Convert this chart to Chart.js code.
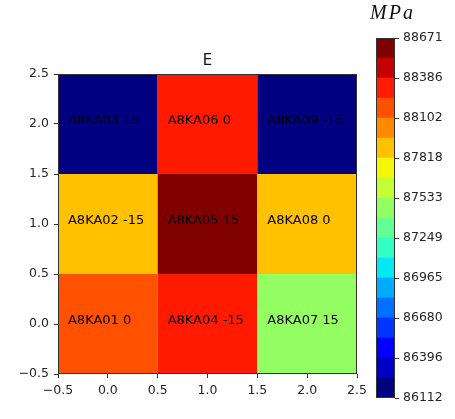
<!DOCTYPE html>
<html>
<head>
<meta charset="utf-8">
<script src="https://cdn.jsdelivr.net/npm/chart.js@4.4.1/dist/chart.umd.min.js"></script>
<style>
  html, body { margin: 0; padding: 0; background: #fff; }
  #wrap { position: relative; width: 455px; height: 419px; overflow: hidden; }
  #heat { position: absolute; left: 0; top: 0; }
  #cbar { position: absolute; left: 360px; top: 0; }
  #unit { position: absolute; left: 370px; top: 1px; line-height: 20px;
          font: italic 20px "Liberation Serif", serif; letter-spacing: 2px; color: #111; }
</style>
</head>
<body>
<div id="wrap">
  <canvas id="heat" width="370" height="419"></canvas>
  <canvas id="cbar" width="95" height="419"></canvas>
  <div id="unit">MPa</div>
</div>
<script>
// grid cells: name, angle, column, row and modulus value (MPa)
const cellNames = ['A8KA01', 'A8KA02', 'A8KA03', 'A8KA04', 'A8KA05', 'A8KA06', 'A8KA07', 'A8KA08', 'A8KA09'];
const cellAngles = [0, -15, 15, -15, 15, 0, 15, 0, -15];
const cellCols = [0, 0, 0, 1, 1, 1, 2, 2, 2];
const cellRows = [0, 1, 2, 0, 1, 2, 0, 1, 2];
const cellValues = [88180, 87890, 86112, 88310, 88671, 88330, 87460, 87900, 86180];

// axis ticks
const axisTicks = [-0.5, 0, 0.5, 1, 1.5, 2, 2.5];

// colour scale (jet, 18 levels)
const colorMin = 86112;
const colorMax = 88671;
const bandColors = [
    '#000080', '#0000c4', '#0000ff', '#0034ff', '#0070ff', '#00acff',
    '#02e8f4', '#33ffc4', '#63ff93', '#93ff63', '#c4ff33', '#f4f802',
    '#ffc100', '#ff8900', '#ff5100', '#ff1a00', '#c40000', '#800000'
];
const colorbarTicks = [86112, 86396, 86680, 86965, 87249, 87533, 87818, 88102, 88386, 88671];

const FONT = '"DejaVu Sans", sans-serif';
const TICK_COLOR = '#262626';

function colorFor(v) {
    const n = bandColors.length;
    let i = Math.floor((v - colorMin) / (colorMax - colorMin) * n);
    return bandColors[Math.max(0, Math.min(n - 1, i))];
}

// box around the plot area
const framePlugin = {
    id: 'frame',
    afterDatasetsDraw(chart) {
        const a = chart.chartArea;
        const ctx = chart.ctx;
        ctx.save();
        ctx.strokeStyle = '#333';
        ctx.lineWidth = 1;
        ctx.strokeRect(Math.round(a.left) + 0.5, Math.round(a.top) + 0.5,
            Math.round(a.right - a.left) - 1, Math.round(a.bottom - a.top) - 1);
        ctx.restore();
    }
};

// text inside each cell, left part of the cell on the row line
const cellLabels = {
    id: 'cellLabels',
    afterDatasetsDraw(chart) {
        const xs = chart.scales.x, ys = chart.scales.y;
        const ctx = chart.ctx;
        ctx.save();
        ctx.font = '13px ' + FONT;
        ctx.fillStyle = '#000';
        ctx.textAlign = 'left';
        ctx.textBaseline = 'alphabetic';
        cellNames.forEach((name, i) => {
            const x = xs.getPixelForValue(cellCols[i] - 0.4);
            const y = ys.getPixelForValue(cellRows[i]);
            ctx.fillText(name + ' ' + cellAngles[i], x, y);
        });
        ctx.restore();
    }
};

function fmtTick(v) {
    return (v < 0 ? '\u2212' : '') + Math.abs(v).toFixed(1);
}

function axisOpts(width, height) {
    return {
        type: 'linear',
        offset: false,
        min: -0.5,
        max: 2.5,
        afterBuildTicks: axis => { axis.ticks = axisTicks.map(v => ({ value: v })); },
        afterFit: axis => {
            if (width) axis.width = width;
            if (height) axis.height = height;
            // end labels may hang past the frame; the layout padding covers them
            axis.paddingLeft = axis.paddingRight = 0;
            axis.paddingTop = axis.paddingBottom = 0;
        },
        ticks: { callback: fmtTick, color: TICK_COLOR, font: { family: FONT, size: 12.5 }, padding: 5, maxRotation: 0, autoSkip: false },
        grid: { offset: false, drawOnChartArea: false, drawTicks: true, tickLength: 4, tickColor: '#333' },
        border: { display: false }
    };
}

new Chart(document.getElementById('heat'), {
    type: 'bar',
    data: {
        datasets: [{
            data: cellValues.map((v, i) => ({ x: cellCols[i], y: [cellRows[i] - 0.5, cellRows[i] + 0.5] })),
            backgroundColor: cellValues.map(colorFor),
            borderWidth: 0,
            // the sample spacing comes from the 0.5 tick step, so a full cell is twice that
            categoryPercentage: 1,
            barPercentage: 2
        }]
    },
    options: {
        responsive: false,
        animation: false,
        layout: { padding: { top: 52, left: 0, right: 13, bottom: 0 } },
        scales: {
            x: axisOpts(null, 45),
            y: axisOpts(58, null)
        },
        plugins: {
            legend: { display: false },
            tooltip: { enabled: false },
            title: {
                display: true,
                text: 'E',
                fullSize: false,
                color: '#111',
                font: { family: FONT, size: 15, weight: 'normal' },
                padding: { top: 0, bottom: 4 }
            }
        }
    },
    plugins: [cellLabels, framePlugin]
});

// colour bar: one floating bar per level
const bandStep = (colorMax - colorMin) / bandColors.length;
new Chart(document.getElementById('cbar'), {
    type: 'bar',
    data: {
        labels: [''],
        datasets: bandColors.map((c, i) => ({
            data: [[colorMin + i * bandStep, colorMin + (i + 1) * bandStep]],
            backgroundColor: c,
            borderWidth: 0,
            grouped: false,
            categoryPercentage: 1,
            barPercentage: 1
        }))
    },
    options: {
        responsive: false,
        animation: false,
        layout: { padding: { top: 38, left: 16, right: 0, bottom: 21 } },
        scales: {
            x: { display: false },
            y: {
                position: 'right',
                min: colorMin,
                max: colorMax,
                afterBuildTicks: axis => { axis.ticks = colorbarTicks.map(v => ({ value: v })); },
                afterFit: axis => { axis.width = 60; },
                ticks: { callback: v => String(v), color: TICK_COLOR, font: { family: FONT, size: 12.5 }, padding: 4, autoSkip: false },
                grid: { drawOnChartArea: false, drawTicks: true, tickLength: 4, tickColor: '#333' },
                border: { display: false }
            }
        },
        plugins: { legend: { display: false }, tooltip: { enabled: false } }
    },
    plugins: [framePlugin]
});
</script>
</body>
</html>
